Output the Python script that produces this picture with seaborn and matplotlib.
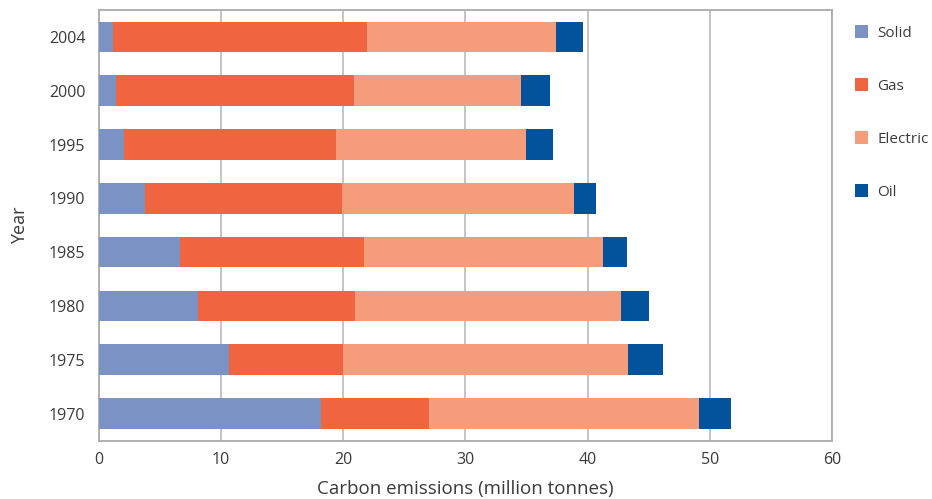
import matplotlib as mpl
mpl.use('Agg')
import matplotlib.pyplot as plt
import seaborn as sns
import numpy as np
import pandas as pd
from matplotlib.patches import Patch

years = ['2004', '2000', '1995', '1990', '1985', '1980', '1975', '1970']
solid = [1.2, 1.4, 2.1, 3.8, 6.7, 8.1, 10.7, 18.2]
gas = [20.8, 19.5, 17.3, 16.1, 15.0, 12.9, 9.3, 8.8]
electric = [15.4, 13.7, 15.6, 19.0, 19.6, 21.7, 23.3, 22.1]
oil = [2.2, 2.3, 2.2, 1.8, 1.9, 2.3, 2.9, 2.6]

sources = ['Solid', 'Gas', 'Electric', 'Oil']
colors = {'Solid': '#7A93C4', 'Gas': '#F06440', 'Electric': '#F59C7C', 'Oil': '#03539C'}

sns.set_style('white')
plt.rcParams['font.family'] = ['Open Sans', 'DejaVu Sans']
text_col = '#3a3a3a'
grid_col = '#C4C4C4'

df = pd.DataFrame({'Year': years, 'Solid': solid, 'Gas': gas,
                   'Electric': electric, 'Oil': oil})
# cumulative totals so each stack can be drawn back-to-front
cum = df[sources].cumsum(axis=1)
cum['Year'] = df['Year']

fig = plt.figure(figsize=(9.32, 4.99), dpi=100)
ax = fig.add_axes([0.1057, 0.1172, 0.7870, 0.8628])

for src in reversed(sources):
    sns.barplot(data=cum, x=src, y='Year', order=years, color=colors[src],
                width=0.57, orient='h', ax=ax, saturation=1, linewidth=0,
                edgecolor='none', zorder=3)

ax.set_xlim(0, 60)
ax.set_ylim(len(years) - 0.5, -0.5)
ax.set_xticks(np.arange(0, 61, 10))
ax.xaxis.grid(True, color=grid_col, lw=1.4, zorder=0)
ax.set_axisbelow(True)

for s in ax.spines.values():
    s.set_visible(True)
    s.set_color('#B0B0B0')
    s.set_linewidth(1.4)

ax.tick_params(axis='x', length=0, pad=8, labelsize=11.5, labelcolor=text_col)
ax.tick_params(axis='y', which='major', length=0, pad=9.5, labelsize=11.5,
               labelcolor=text_col)
ax.set_yticks(np.arange(-0.5, len(years), 1), minor=True)
ax.tick_params(axis='y', which='minor', length=5, width=1.4, color='#B0B0B0',
               direction='out')

ax.set_xlabel('Carbon emissions (million tonnes)', fontsize=13.5, color=text_col,
              labelpad=9)
ax.set_ylabel('Year', fontsize=13, color=text_col, labelpad=14)

handles = [Patch(facecolor=colors[s], edgecolor='none', label=s) for s in sources]
fig.legend(handles=handles, loc='upper left', bbox_to_anchor=(0.917, 0.950),
           frameon=False, fontsize=11, handlelength=0.9, handleheight=0.9,
           handletextpad=0.6, labelspacing=2.45, borderpad=0, borderaxespad=0,
           labelcolor=text_col)

plt.savefig('out.png', dpi=100)
plt.close()
